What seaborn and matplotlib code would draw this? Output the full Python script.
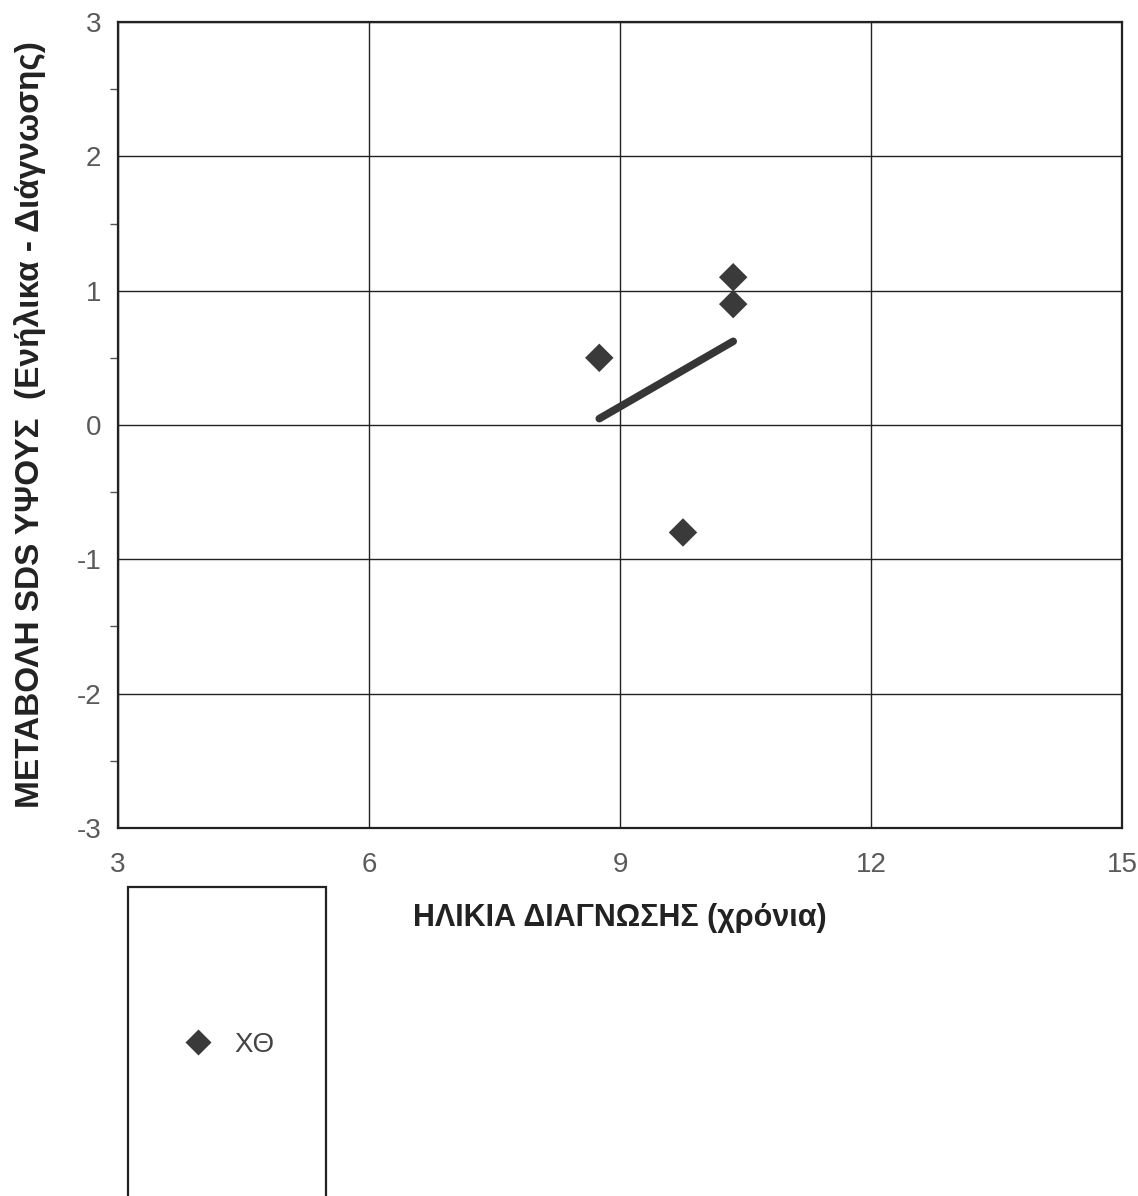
import matplotlib
matplotlib.use("Agg")
import matplotlib.pyplot as plt
import seaborn as sns
import pandas as pd
from matplotlib.patches import Rectangle
from matplotlib.lines import Line2D

# data
age_at_diagnosis = [8.75, 10.35, 10.35, 9.75]
sds_change = [0.5, 1.1, 0.9, -0.8]
group_label = "ΧΘ"

x_ticks = [3, 6, 9, 12, 15]
y_ticks = [-3, -2, -1, 0, 1, 2, 3]

x_title = "ΗΛΙΚΙΑ ΔΙΑΓΝΩΣΗΣ (χρόνια)"
y_title = "ΜΕΤΑΒΟΛΗ SDS ΥΨΟΥΣ  (Ενήλικα - Διάγνωσης)"

sns.set_theme(style="white")
plt.rcParams["font.family"] = ["Liberation Sans", "DejaVu Sans"]
plt.rcParams["axes.unicode_minus"] = False

df = pd.DataFrame({"age": age_at_diagnosis, "sds": sds_change})

fig = plt.figure(figsize=(11.38, 11.96), dpi=100)
ax = fig.add_axes([0.1037, 0.3077, 0.8826, 0.6739])

point_color = "#3a3a3a"

sns.scatterplot(
    data=df,
    x="age",
    y="sds",
    marker="D",
    s=210,
    color=point_color,
    edgecolor="none",
    ax=ax,
    zorder=4
)

sns.regplot(
    data=df,
    x="age",
    y="sds",
    ci=None,
    scatter=False,
    color="#363636",
    line_kws={"linewidth": 5.5, "solid_capstyle": "round", "zorder": 3},
    ax=ax
)

ax.set_xlim(3, 15)
ax.set_ylim(-3, 3)
ax.set_xticks(x_ticks)
ax.set_yticks(y_ticks)
ax.set_yticks([v + 0.5 for v in y_ticks[:-1]], minor=True)

ax.grid(True, which="major", color="#222222", linewidth=1.0)
ax.set_axisbelow(True)

for spine in ax.spines.values():
    spine.set_color("#222222")
    spine.set_linewidth(1.6)

ax.tick_params(axis="both", which="major", direction="out", length=9,
               width=1.0, color="#222222", labelsize=20, labelcolor="#5a5a5a")
ax.tick_params(axis="x", which="major", pad=8)
ax.tick_params(axis="y", which="major", pad=3)
ax.tick_params(axis="y", which="minor", direction="out", length=6,
               width=1.0, color="#555555", left=True)

ax.set_xlabel(x_title, fontsize=22, fontweight="bold", color="#222222", labelpad=18)
ax.set_ylabel(y_title, fontsize=24, fontweight="bold", color="#222222", labelpad=22)

# legend box below the axes
fig.patches.append(Rectangle((128 / 1138, -0.01), 198 / 1138, 1 - 887 / 1196 + 0.01,
                             transform=fig.transFigure, fill=False,
                             edgecolor="#222222", linewidth=1.6))
handle = Line2D([], [], marker="D", linestyle="none", markersize=13,
                color=point_color, markeredgecolor="none")
fig.legend([handle], [group_label], loc="center left",
           bbox_to_anchor=(159 / 1138, 1 - 1045 / 1196), frameon=False,
           fontsize=20, handlelength=1.0, handletextpad=0.8,
           labelcolor="#444444")

plt.savefig("out.png", dpi=100)
plt.close()
